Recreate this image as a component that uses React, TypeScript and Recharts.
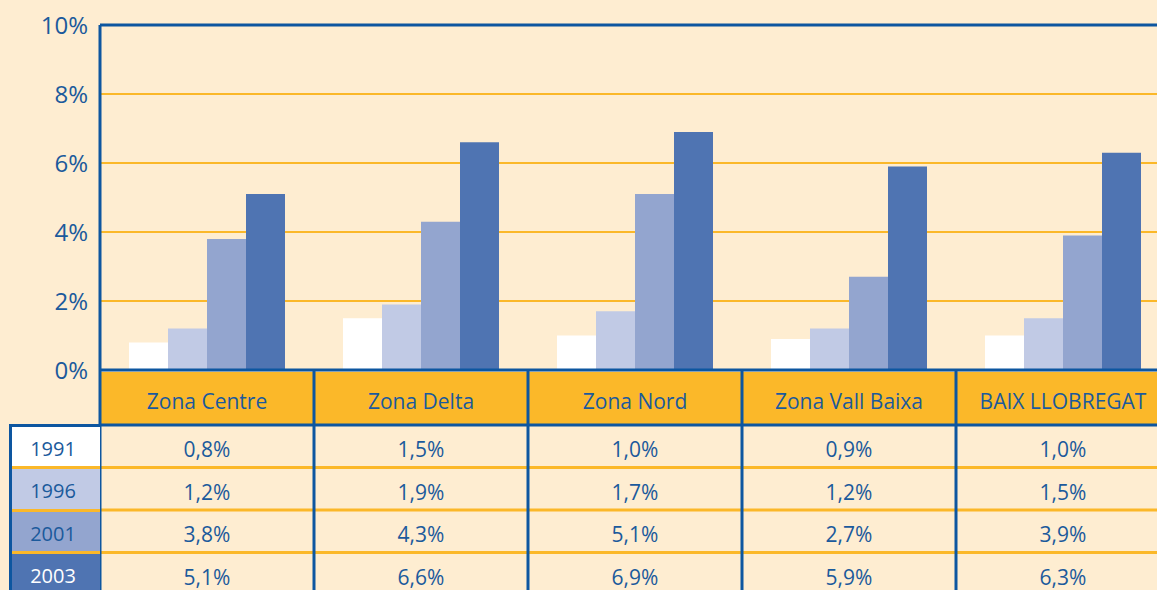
import React from 'react';
import { BarChart, Bar, XAxis, YAxis, CartesianGrid, ReferenceLine, Legend } from 'recharts';

// zones (categories) and yearly shares
const zones = ['Zona Centre', 'Zona Delta', 'Zona Nord', 'Zona Vall Baixa', 'BAIX LLOBREGAT'];
const years = ['1991', '1996', '2001', '2003'];
const values1991 = [0.8, 1.5, 1.0, 0.9, 1.0];
const values1996 = [1.2, 1.9, 1.7, 1.2, 1.5];
const values2001 = [3.8, 4.3, 5.1, 2.7, 3.9];
const values2003 = [5.1, 6.6, 6.9, 5.9, 6.3];
const yTicks = [0, 2, 4, 6, 8, 10];

const BG = '#feedd1';
const ORANGE = '#fbb829';
const BLUE = '#0d56a0';
const TEXT = '#1b5a9c';
const FONT = '"Open Sans", sans-serif';
const seriesColors = ['#ffffff', '#c1cae5', '#93a5cf', '#4f74b2'];

const series = [
  { key: 'y1991', name: years[0], values: values1991, color: seriesColors[0] },
  { key: 'y1996', name: years[1], values: values1996, color: seriesColors[1] },
  { key: 'y2001', name: years[2], values: values2001, color: seriesColors[2] },
  { key: 'y2003', name: years[3], values: values2003, color: seriesColors[3] },
];

const data = zones.map((zone, i) => ({
  zone,
  y1991: values1991[i],
  y1996: values1996[i],
  y2001: values2001[i],
  y2003: values2003[i],
}));

// layout
const CHART_W = 1170;
const CHART_H = 600;
const Y_AXIS_W = 100;
const X_AXIS_H = 230;
const PLOT_BOTTOM = CHART_H - X_AXIS_H;
const BAND = (CHART_W - Y_AXIS_W) / zones.length;
const HEADER_TOP = PLOT_BOTTOM + 2;
const ROW_TOP = 425;
const HEADER_H = ROW_TOP - HEADER_TOP;
const ROW_H = 42.5;

const fmt = (v: number) => v.toFixed(1).replace('.', ',') + '%';

const ColumnTick = (props: any) => {
  const { x, payload, index } = props;
  const left = x - BAND / 2;
  return (
    <g>
      <rect x={left} y={HEADER_TOP} width={BAND} height={HEADER_H} fill={ORANGE} />
      <text
        x={x}
        y={HEADER_TOP + HEADER_H / 2 + 2}
        textAnchor="middle"
        dominantBaseline="central"
        fill={TEXT}
        fontSize={21}
        fontFamily={FONT}
      >
        {payload.value}
      </text>
      {series.slice(1).map((s, r) => (
        <line
          key={'sep' + s.key}
          x1={left}
          x2={left + BAND}
          y1={ROW_TOP + (r + 1) * ROW_H}
          y2={ROW_TOP + (r + 1) * ROW_H}
          stroke={ORANGE}
          strokeWidth={3}
        />
      ))}
      {series.map((s, r) => (
        <text
          key={'val' + s.key}
          x={x}
          y={ROW_TOP + r * ROW_H + ROW_H / 2 + 3}
          textAnchor="middle"
          dominantBaseline="central"
          fill={TEXT}
          fontSize={21}
          fontFamily={FONT}
        >
          {fmt(s.values[index])}
        </text>
      ))}
      <line x1={left} x2={left + BAND} y1={ROW_TOP} y2={ROW_TOP} stroke={BLUE} strokeWidth={3} />
      <line x1={left} x2={left} y1={HEADER_TOP - 2} y2={CHART_H} stroke={BLUE} strokeWidth={3} />
    </g>
  );
};

const LegendColumn = ({ payload }: any) => (
  <div
    style={{
      borderLeft: `3px solid ${BLUE}`,
      boxSizing: 'border-box',
      fontFamily: FONT,
      fontSize: 20,
    }}
  >
    {(payload || []).map((entry: any, i: number) => (
      <div
        key={entry.value}
        style={{
          height: ROW_H,
          boxSizing: 'border-box',
          background: entry.color,
          color: i === payload.length - 1 ? '#ffffff' : TEXT,
          borderTop: `3px solid ${i === 0 ? BLUE : ORANGE}`,
          display: 'flex',
          alignItems: 'center',
          justifyContent: 'center',
          paddingTop: 5,
          paddingRight: 6,
          lineHeight: '20px',
        }}
      >
        {entry.value}
      </div>
    ))}
  </div>
);

export default function App() {
  return (
    <div
      style={{
        position: 'absolute',
        left: 0,
        top: 0,
        width: 1157,
        height: 590,
        overflow: 'hidden',
        background: BG,
      }}
    >
      <BarChart
        width={CHART_W}
        height={CHART_H}
        data={data}
        margin={{ top: 25, right: 0, left: 0, bottom: 0 }}
        barCategoryGap={29}
        barGap={0}
      >
        <CartesianGrid vertical={false} stroke={ORANGE} strokeWidth={2} />
        <XAxis
          dataKey="zone"
          height={X_AXIS_H}
          interval={0}
          axisLine={{ stroke: BLUE, strokeWidth: 3 }}
          tickLine={false}
          tickSize={0}
          tick={<ColumnTick />}
        />
        <YAxis
          width={Y_AXIS_W}
          domain={[0, 10]}
          ticks={yTicks}
          tickFormatter={(v: number) => `${v}%`}
          axisLine={{ stroke: BLUE, strokeWidth: 3 }}
          tickLine={false}
          tickSize={0}
          tickMargin={12}
          tick={{ fill: TEXT, fontSize: 24, fontFamily: FONT }}
        />
        <ReferenceLine y={10} stroke={BLUE} strokeWidth={3} />
        {series.map((s) => (
          <Bar key={s.key} dataKey={s.key} name={s.name} fill={s.color} isAnimationActive={false} />
        ))}
        <Legend
          layout="horizontal"
          verticalAlign="middle"
          align="center"
          content={<LegendColumn />}
          wrapperStyle={{ left: 9, top: ROW_TOP - 1.5, width: 91, height: 170, bottom: 'auto', right: 'auto' }}
        />
      </BarChart>
    </div>
  );
}
